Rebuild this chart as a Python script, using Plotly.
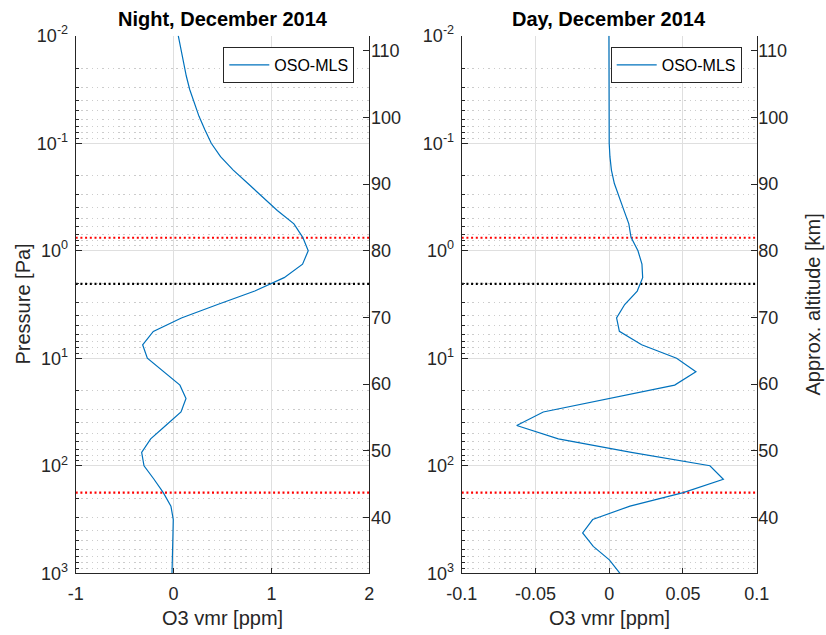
import numpy as np
import plotly.graph_objects as go

# ---------------- data ----------------
pressure_pa = [0.01, 0.01334, 0.01778, 0.02371, 0.03162, 0.04217, 0.05623, 0.07499,
               0.1, 0.1334, 0.1778, 0.2371, 0.3162, 0.4217, 0.5623, 0.7499,
               1.0, 1.334, 1.778, 2.371, 3.162, 4.217, 5.623, 7.499,
               10.0, 13.34, 17.78, 23.71, 31.62, 42.17, 56.23, 74.99,
               100.0, 133.4, 177.8, 237.1, 316.2, 421.7, 562.3, 749.9, 1000.0]

night_o3 = [0.048, 0.075, 0.10, 0.13, 0.165, 0.21, 0.26, 0.32,
            0.385, 0.48, 0.61, 0.76, 0.91, 1.06, 1.23, 1.32,
            1.376, 1.318, 1.13, 0.83, 0.45, 0.08, -0.207, -0.316,
            -0.268, -0.10, 0.065, 0.127, 0.076, -0.08, -0.234, -0.326,
            -0.302, -0.20, -0.105, -0.027, -0.003, -0.006, -0.01, -0.013, -0.016]

day_o3 = [-0.0002, -0.0002, -0.0002, -0.0002, -0.0001, -0.0001, 0.0, 0.0,
          0.0, 0.0005, 0.0015, 0.0035, 0.0065, 0.0100, 0.0133, 0.0148,
          0.0195, 0.0222, 0.0227, 0.019, 0.0105, 0.005, 0.0069, 0.022,
          0.0457, 0.0588, 0.0444, 0.0005, -0.0447, -0.0627, -0.0345, 0.015,
          0.0683, 0.0774, 0.0502, 0.0141, -0.0112, -0.018, -0.0108, 0.0001, 0.0073]

red_lines_pa = [0.757, 178.0]
black_lines_pa = [2.03]

titles = ["Night, December 2014", "Day, December 2014"]
legend_name = "OSO-MLS"
x_label = "O3 vmr [ppm]"
y_label = "Pressure [Pa]"
alt_label = "Approx. altitude [km]"

night_xticks = [-1, 0, 1, 2]
night_xticktext = ["-1", "0", "1", "2"]
day_xticks = [-0.1, -0.05, 0, 0.05, 0.1]
day_xticktext = ["-0.1", "-0.05", "0", "0.05", "0.1"]
p_ticks = [0.01, 0.1, 1, 10, 100, 1000]
p_ticktext = ["10<sup>-2</sup>", "10<sup>-1</sup>", "10<sup>0</sup>",
              "10<sup>1</sup>", "10<sup>2</sup>", "10<sup>3</sup>"]
alt_ticks = [40, 50, 60, 70, 80, 90, 100, 110]

# altitude approximation: z = z_ref - H ln(p / p_ref)
z_ref, H, p_ref = 80.0, 7.0, 1.0
p_range = [1000.0, 0.01]
alt_range = [z_ref - H * np.log(p / p_ref) for p in p_range]
minor_p = [m * 10.0 ** e for e in range(-2, 3) for m in range(2, 10)]

# ---------------- style ----------------
W, Hh = 826, 635
FONT = "Liberation Sans, Arial, Helvetica, sans-serif"
AX = "#262626"
BLUE = "#0072BD"
GRID = "#dfdfdf"
MINOR = "#cccccc"

def px_x(v):
    return v / W

def px_y(v):
    return 1 - v / Hh

dom_y = [px_y(573.3), px_y(35.7)]
dom_x1 = [px_x(75.7), px_x(369.3)]
dom_x2 = [px_x(461.7), px_x(756.7)]

fig = go.Figure()

panels = [
    dict(x="x", y="y", y_alt="y3", data=night_o3, xr=[-1, 2], legend="legend"),
    dict(x="x2", y="y2", y_alt="y4", data=day_o3, xr=[-0.1, 0.1], legend="legend2"),
]

for pn in panels:
    for p in red_lines_pa:
        fig.add_trace(go.Scatter(x=pn["xr"], y=[p, p], xaxis=pn["x"], yaxis=pn["y"],
                                 mode="lines", showlegend=False, hoverinfo="skip",
                                 line=dict(color="#ff0000", width=2.2, dash="2px,2.7px")))
    for p in black_lines_pa:
        fig.add_trace(go.Scatter(x=pn["xr"], y=[p, p], xaxis=pn["x"], yaxis=pn["y"],
                                 mode="lines", showlegend=False, hoverinfo="skip",
                                 line=dict(color="#000000", width=2.2, dash="2px,2.7px")))
    fig.add_trace(go.Scatter(x=pn["data"], y=pressure_pa, xaxis=pn["x"], yaxis=pn["y"],
                             mode="lines", name=legend_name, legend=pn["legend"],
                             line=dict(color=BLUE, width=1.2)))
    # invisible companion on altitude axis so it is drawn
    fig.add_trace(go.Scatter(x=pn["data"],
                             y=[z_ref - H * np.log(p / p_ref) for p in pressure_pa],
                             xaxis=pn["x"], yaxis=pn["y_alt"], mode="lines",
                             showlegend=False, hoverinfo="skip", opacity=0,
                             line=dict(width=0.1)))

tickfont = dict(family=FONT, size=18, color=AX)

def xaxis_cfg(domain, rng, tv, tt, anchor):
    return dict(domain=domain, range=rng, tickmode="array", tickvals=tv, ticktext=tt,
                showgrid=True, gridcolor=GRID, gridwidth=1, zeroline=False,
                showline=True, linecolor=AX, linewidth=1, mirror=False,
                ticks="inside", ticklen=5, tickcolor=AX, tickfont=tickfont,
                anchor=anchor, fixedrange=True, ticklabelstandoff=4, automargin=False)

def yaxis_cfg(anchor):
    return dict(domain=dom_y, type="log", range=[np.log10(p_range[0]), np.log10(p_range[1])],
                tickmode="array", tickvals=p_ticks, ticktext=p_ticktext,
                showgrid=True, gridcolor=GRID, gridwidth=1, zeroline=False,
                showline=True, linecolor=AX, linewidth=1,
                ticks="inside", ticklen=6, tickcolor=AX, tickfont=tickfont,
                minor=dict(tickmode="array", tickvals=minor_p, ticks="inside", ticklen=3,
                           tickcolor=AX, showgrid=True, gridcolor=MINOR, gridwidth=1,
                           griddash="1.5px,3.8px"),
                anchor=anchor, fixedrange=True, ticklabelstandoff=3, automargin=False)

def alt_cfg(overlay, anchor):
    return dict(overlaying=overlay, side="right", range=alt_range, anchor=anchor,
                tickmode="array", tickvals=alt_ticks, showgrid=False, zeroline=False,
                showline=True, linecolor=AX, linewidth=1,
                ticks="inside", ticklen=6, tickcolor=AX, tickfont=tickfont,
                fixedrange=True, ticklabelstandoff=-3, automargin=False)

fig.update_layout(
    width=W, height=Hh, margin=dict(l=0, r=0, t=0, b=0, autoexpand=False),
    paper_bgcolor="white", plot_bgcolor="white",
    font=dict(family=FONT, color=AX),
    xaxis=xaxis_cfg(dom_x1, [-1, 2], night_xticks, night_xticktext, "y"),
    xaxis2=xaxis_cfg(dom_x2, [-0.1, 0.1], day_xticks, day_xticktext, "y2"),
    yaxis=yaxis_cfg("x"),
    yaxis2=yaxis_cfg("x2"),
    yaxis3=alt_cfg("y", "x"),
    yaxis4=alt_cfg("y2", "x2"),
    legend=dict(x=px_x(354.3), y=px_y(47), xanchor="right", yanchor="top",
                bgcolor="white", bordercolor=AX, borderwidth=1,
                font=dict(family=FONT, size=16, color="#000000"), itemwidth=40),
    legend2=dict(x=px_x(741.7), y=px_y(47), xanchor="right", yanchor="top",
                 bgcolor="white", bordercolor=AX, borderwidth=1,
                 font=dict(family=FONT, size=16, color="#000000"), itemwidth=40),
    showlegend=True,
)

ann = []
for dom, t in zip([dom_x1, dom_x2], titles):
    cx = (dom[0] + dom[1]) / 2
    ann.append(dict(text="<b>" + t + "</b>", x=cx, y=px_y(19), xref="paper", yref="paper",
                    showarrow=False, font=dict(family=FONT, size=20, color="#000000"),
                    xanchor="center", yanchor="middle"))
    ann.append(dict(text=x_label, x=cx, y=px_y(618), xref="paper", yref="paper",
                    showarrow=False, font=dict(family=FONT, size=20, color=AX),
                    xanchor="center", yanchor="middle"))
ann.append(dict(text=y_label, x=px_x(22), y=px_y(304.5), xref="paper", yref="paper",
                showarrow=False, textangle=-90, font=dict(family=FONT, size=20, color=AX),
                xanchor="center", yanchor="middle"))
ann.append(dict(text=alt_label, x=px_x(812), y=px_y(304.5), xref="paper", yref="paper",
                showarrow=False, textangle=-90, font=dict(family=FONT, size=20, color=AX),
                xanchor="center", yanchor="middle"))
fig.update_layout(annotations=ann)

fig.write_html("out.html")
